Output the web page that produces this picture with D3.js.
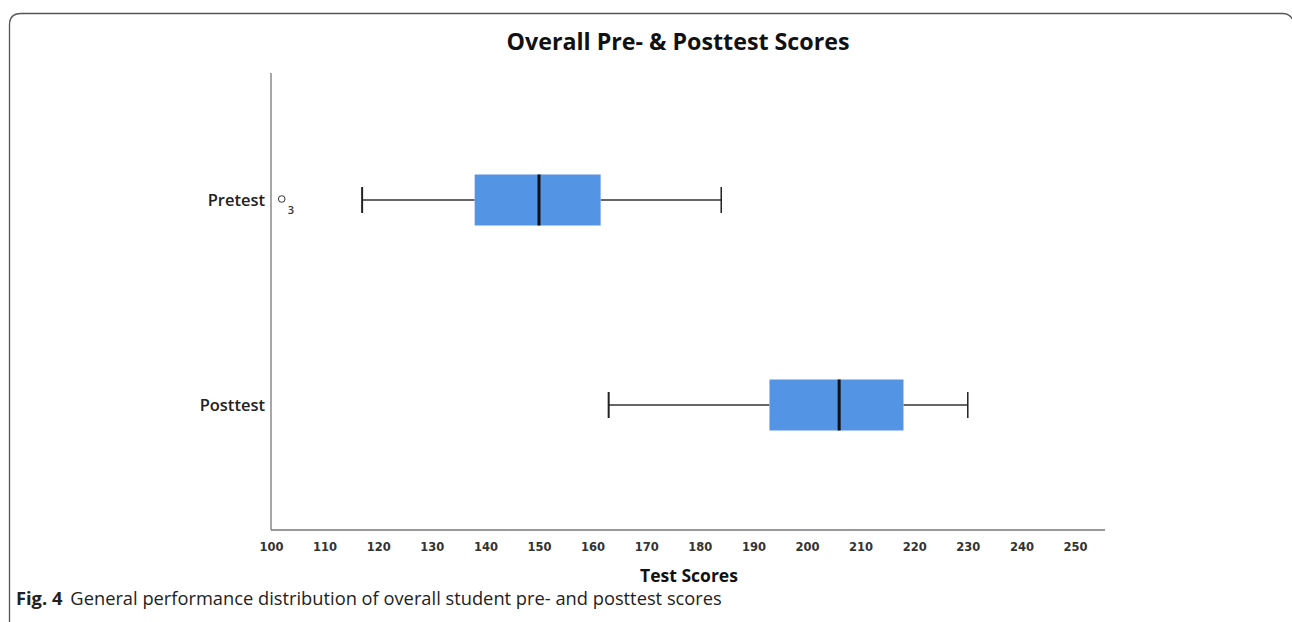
<!DOCTYPE html>
<html>
<head>
<meta charset="utf-8">
<script src="https://cdn.jsdelivr.net/npm/d3@7"></script>
<style>
  body { margin: 0; background: #fff; }
  svg { display: block; }
</style>
</head>
<body>
<svg id="chart" width="1292" height="622"></svg>
<script>
// data
var groups = ['Pretest', 'Posttest']
var lowWhisker = [117, 163]
var q1 = [138, 193]
var median = [150, 206]
var q3 = [161.5, 218]
var highWhisker = [184, 230]
var outlierGroup = ['Pretest']
var outlierValue = [102]
var outlierLabel = ['3']
var xTicks = [100, 110, 120, 130, 140, 150, 160, 170, 180, 190, 200, 210, 220, 230, 240, 250]

var svg = d3.select('#chart')

// frame round the figure
svg.append('path')
  .attr('d', 'M9.5,622 L9.5,25 Q9.5,13.5 21,13.5 L1282,13.5 Q1290,13.5 1293,20')
  .attr('fill', 'none').attr('stroke', '#555').attr('stroke-width', 1.3)

var plotLeft = 271, plotRight = 1105, plotTop = 73, plotBottom = 530

var x = d3.scaleLinear().domain([100, 255.6]).range([plotLeft, plotRight])
var y = d3.scalePoint().domain(groups).range([200, 405])

// axes
svg.append('line').attr('x1', plotLeft).attr('x2', plotLeft).attr('y1', plotTop).attr('y2', plotBottom)
  .attr('stroke', '#777').attr('stroke-width', 1.3)

var xAxis = svg.append('g')
  .attr('transform', 'translate(0,' + plotBottom + ')')
  .call(d3.axisBottom(x).tickValues(xTicks).tickSize(0).tickPadding(13))
xAxis.select('.domain').attr('stroke', '#777').attr('stroke-width', 1.3)
  .attr('d', 'M' + plotLeft + ',0H' + plotRight)
xAxis.selectAll('text')
  .attr('font-family', 'DejaVu Sans').attr('font-size', 11.5)
  .attr('fill', '#333').attr('font-weight', 'bold')

svg.selectAll('.cat')
  .data(groups)
  .enter().append('text')
  .attr('x', 265).attr('y', function (d) { return y(d) + 6 })
  .attr('text-anchor', 'end')
  .attr('font-family', 'Open Sans').attr('font-weight', 600).attr('font-size', 16.5).attr('fill', '#222')
  .text(function (d) { return d })

// boxes
var boxH = 51
var rows = groups.map(function (g, i) {
  return { g: g, lo: lowWhisker[i], q1: q1[i], med: median[i], q3: q3[i], hi: highWhisker[i] }
})
var box = svg.selectAll('.box').data(rows).enter().append('g')

box.append('line')
  .attr('x1', function (d) { return x(d.lo) }).attr('x2', function (d) { return x(d.q1) })
  .attr('y1', function (d) { return y(d.g) }).attr('y2', function (d) { return y(d.g) })
  .attr('stroke', '#333').attr('stroke-width', 1.5)
box.append('line')
  .attr('x1', function (d) { return x(d.q3) }).attr('x2', function (d) { return x(d.hi) })
  .attr('y1', function (d) { return y(d.g) }).attr('y2', function (d) { return y(d.g) })
  .attr('stroke', '#333').attr('stroke-width', 1.5)
box.append('line')
  .attr('x1', function (d) { return x(d.lo) }).attr('x2', function (d) { return x(d.lo) })
  .attr('y1', function (d) { return y(d.g) - 13 }).attr('y2', function (d) { return y(d.g) + 13 })
  .attr('stroke', '#222').attr('stroke-width', 2)
box.append('line')
  .attr('x1', function (d) { return x(d.hi) }).attr('x2', function (d) { return x(d.hi) })
  .attr('y1', function (d) { return y(d.g) - 13 }).attr('y2', function (d) { return y(d.g) + 13 })
  .attr('stroke', '#222').attr('stroke-width', 1.5)
box.append('rect')
  .attr('x', function (d) { return x(d.q1) })
  .attr('width', function (d) { return x(d.q3) - x(d.q1) })
  .attr('y', function (d) { return y(d.g) - boxH / 2 }).attr('height', boxH)
  .attr('fill', '#5494e4')
box.append('line')
  .attr('x1', function (d) { return x(d.med) }).attr('x2', function (d) { return x(d.med) })
  .attr('y1', function (d) { return y(d.g) - boxH / 2 }).attr('y2', function (d) { return y(d.g) + boxH / 2 })
  .attr('stroke', '#111').attr('stroke-width', 3)

// outlier
outlierValue.forEach(function (v, i) {
  svg.append('circle')
    .attr('cx', x(v)).attr('cy', y(outlierGroup[i]) - 1).attr('r', 3.3)
    .attr('fill', 'none').attr('stroke', '#333').attr('stroke-width', 1)
  svg.append('text')
    .attr('x', x(v) + 6).attr('y', y(outlierGroup[i]) + 14)
    .attr('font-family', 'Open Sans').attr('font-weight', 600).attr('font-size', 11).attr('fill', '#333')
    .text(outlierLabel[i])
})

// titles
svg.append('text').attr('x', 678).attr('y', 50).attr('text-anchor', 'middle')
  .attr('font-family', 'Open Sans').attr('font-weight', 'bold').attr('font-size', 23.3)
  .attr('fill', '#111').attr('textLength', 343).attr('lengthAdjust', 'spacingAndGlyphs')
  .text('Overall Pre- & Posttest Scores')
svg.append('text').attr('x', 689).attr('y', 582).attr('text-anchor', 'middle')
  .attr('font-family', 'Open Sans').attr('font-weight', 'bold').attr('font-size', 17.5)
  .attr('fill', '#111').text('Test Scores')

var cap = svg.append('text').attr('x', 16).attr('y', 605)
  .attr('font-family', 'Open Sans').attr('font-size', 18.3).attr('fill', '#222')
cap.append('tspan').attr('font-weight', 'bold').text('Fig. 4')
cap.append('tspan').attr('dx', 8).text('General performance distribution of overall student pre- and posttest scores')
</script>
</body>
</html>
